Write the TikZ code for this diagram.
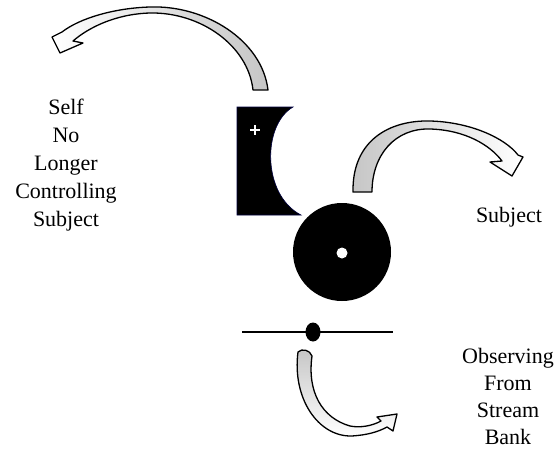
\documentclass[tikz,border=0pt]{standalone}
\usepackage{fontspec}
\setmainfont{Liberation Serif}
\begin{document}
\begin{tikzpicture}[x=1pt,y=-1pt,
  blk/.style={fill=black},
  barrow/.style={draw=black,line width=1.3pt,line join=round},
  lbl/.style={font=\fontsize{22}{28}\selectfont,align=center,inner sep=0pt},
  lblb/.style={font=\fontsize{22}{26.7}\selectfont,align=center,inner sep=0pt}]
\useasboundingbox (0,0) rectangle (560,453);
% crescent block
\path[blk,draw=black!75!blue,line width=0.6pt] (237,107) -- (293,107) .. controls (262,125) and (262,195) .. (301,215) -- (237,215) -- cycle;
\draw[white,line width=2.4pt] (250,130) -- (260,130) (255,125) -- (255,135);
% disc
\node[circle,fill=black,minimum size=98pt,inner sep=0pt] (disc) at (342,252) {};
\fill[white] (342,253) circle (5.5);
% bank line
\draw[line width=2.8pt] (242,332) -- (393,332);
\fill (313,332) ellipse [x radius=7.5, y radius=9.5];
% labels
\node[lbl,anchor=north] (self) at (66,99) {Self\\No\\Longer\\Controlling\\Subject};
\node[lbl,anchor=base] (subj) at (509,222) {Subject};
\node[lblb,anchor=north] (obs) at (508,348.5) {Observing\\From\\Stream\\Bank};
% top-left arrow
\path[barrow, left color=white, middle color=white, right color=gray!45]
 (268,90) .. controls (262,40) and (205,5) .. (150,7) .. controls (115,8) and (80,18) .. (62,32)
 -- (52,37) -- (60,53) -- (83,43) -- (73,41)
 .. controls (88,28) and (115,14) .. (150,13) .. controls (200,12) and (248,45) .. (253,90) -- cycle;
% right arrow
\path[barrow, left color=gray!45, middle color=white, right color=white]
 (353,192) .. controls (352,140) and (390,120) .. (430,121) .. controls (470,122) and (505,138) .. (518,155)
 -- (523,157) -- (512,176) -- (490,162) -- (502,161)
 .. controls (490,145) and (465,130) .. (430,129) .. controls (395,128) and (372,155) .. (372,192) -- cycle;
% bottom arrow
\path[barrow, top color=gray!45, middle color=white, bottom color=white]
 (298,352) .. controls (292,398) and (318,437) .. (352,436) .. controls (367,435) and (378,432) .. (387,427)
 -- (393,431) -- (397,414) -- (377,417) -- (381,421)
 .. controls (372,426) and (360,428) .. (350,426) .. controls (322,418) and (307,392) .. (312,356)
 .. controls (310,350) and (302,348) .. (298,352) -- cycle;
\end{tikzpicture}
\end{document}
